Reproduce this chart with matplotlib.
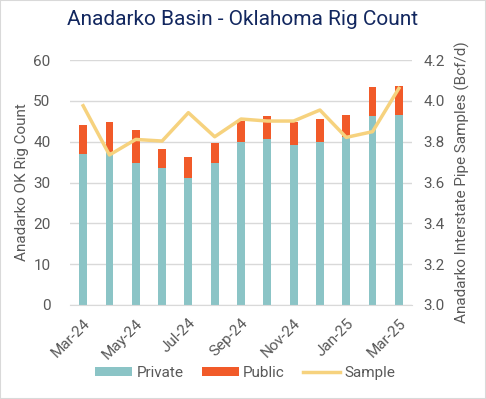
import matplotlib.pyplot as plt
import numpy as np

plt.rcParams['font.family'] = ['Roboto', 'DejaVu Sans']

months = ['Mar-24', 'Apr-24', 'May-24', 'Jun-24', 'Jul-24', 'Aug-24', 'Sep-24',
          'Oct-24', 'Nov-24', 'Dec-24', 'Jan-25', 'Feb-25', 'Mar-25']
private = [37.1, 37.5, 34.7, 33.6, 31.2, 34.8, 40.0, 40.6, 39.3, 40.0, 41.2, 46.4, 46.5]
total = [44.2, 44.7, 42.9, 38.3, 36.2, 39.7, 45.0, 46.4, 44.9, 45.6, 46.6, 53.4, 53.6]
public = [t - p for t, p in zip(total, private)]
sample = [3.976, 3.735, 3.811, 3.803, 3.942, 3.824, 3.911, 3.901, 3.901, 3.955, 3.821, 3.849, 4.061]

teal = '#8BC4C6'
orange = '#F15A29'
yellow = '#F6D27E'
grey = '#595959'

fig = plt.figure(figsize=(4.86, 3.99), dpi=100)
ax = fig.add_axes([70/486, 1 - 305/399, 342/486, 245/399])
ax2 = ax.twinx()

x = np.arange(len(months))
ax.bar(x, private, width=0.3, color=teal, label='Private', zorder=2)
ax.bar(x, public, width=0.3, bottom=private, color=orange, label='Public', zorder=2)
ax2.plot(x, sample, color=yellow, lw=2.5, label='Sample')

ax.set_xlim(-0.5, 12.5)
ax.set_ylim(0, 60)
ax.set_yticks(range(0, 61, 10))
ax2.set_ylim(3.0, 4.2)
ax2.set_yticks(np.arange(3.0, 4.21, 0.2))
ax2.set_yticklabels([f'{v:.1f}' for v in np.arange(3.0, 4.21, 0.2)])

ax.grid(axis='y', color='#D9D9D9', lw=1, zorder=0)
ax.set_axisbelow(True)
for a in (ax, ax2):
    for s in a.spines.values():
        s.set_visible(False)
    a.tick_params(length=0, labelsize=11, labelcolor=grey)
ax.spines['bottom'].set_visible(True)
ax.spines['bottom'].set_color('#D9D9D9')

ax.set_xticks(x[::2])
ax.set_xticklabels(months[::2], rotation=45, ha='right', rotation_mode='anchor')
ax.tick_params(axis='x', pad=8)
ax.tick_params(axis='y', pad=14)
ax2.tick_params(axis='y', pad=8)

ax.set_ylabel('Anadarko OK Rig Count', fontsize=11, color=grey, labelpad=3)
ax2.set_ylabel('Anadarko Interstate Pipe Samples (Bcf/d)', fontsize=11, color=grey, labelpad=7)

fig.suptitle('Anadarko Basin - Oklahoma Rig Count', x=0.5, y=0.975, fontsize=15, color='#12275F')

h1, l1 = ax.get_legend_handles_labels()
h2, l2 = ax2.get_legend_handles_labels()
fig.legend(h1 + h2, l1 + l2, loc='center', bbox_to_anchor=(0.505, 1 - 373/399), ncol=3,
           frameon=False, fontsize=11, labelcolor=grey, handlelength=2.4,
           handleheight=0.6, columnspacing=1.2, handletextpad=0.3)

fig.patches.append(plt.Rectangle((0, 0), 1, 1, transform=fig.transFigure,
                                 fill=False, edgecolor='#D9D9D9', lw=1.5))

fig.savefig('out.png', dpi=100)
